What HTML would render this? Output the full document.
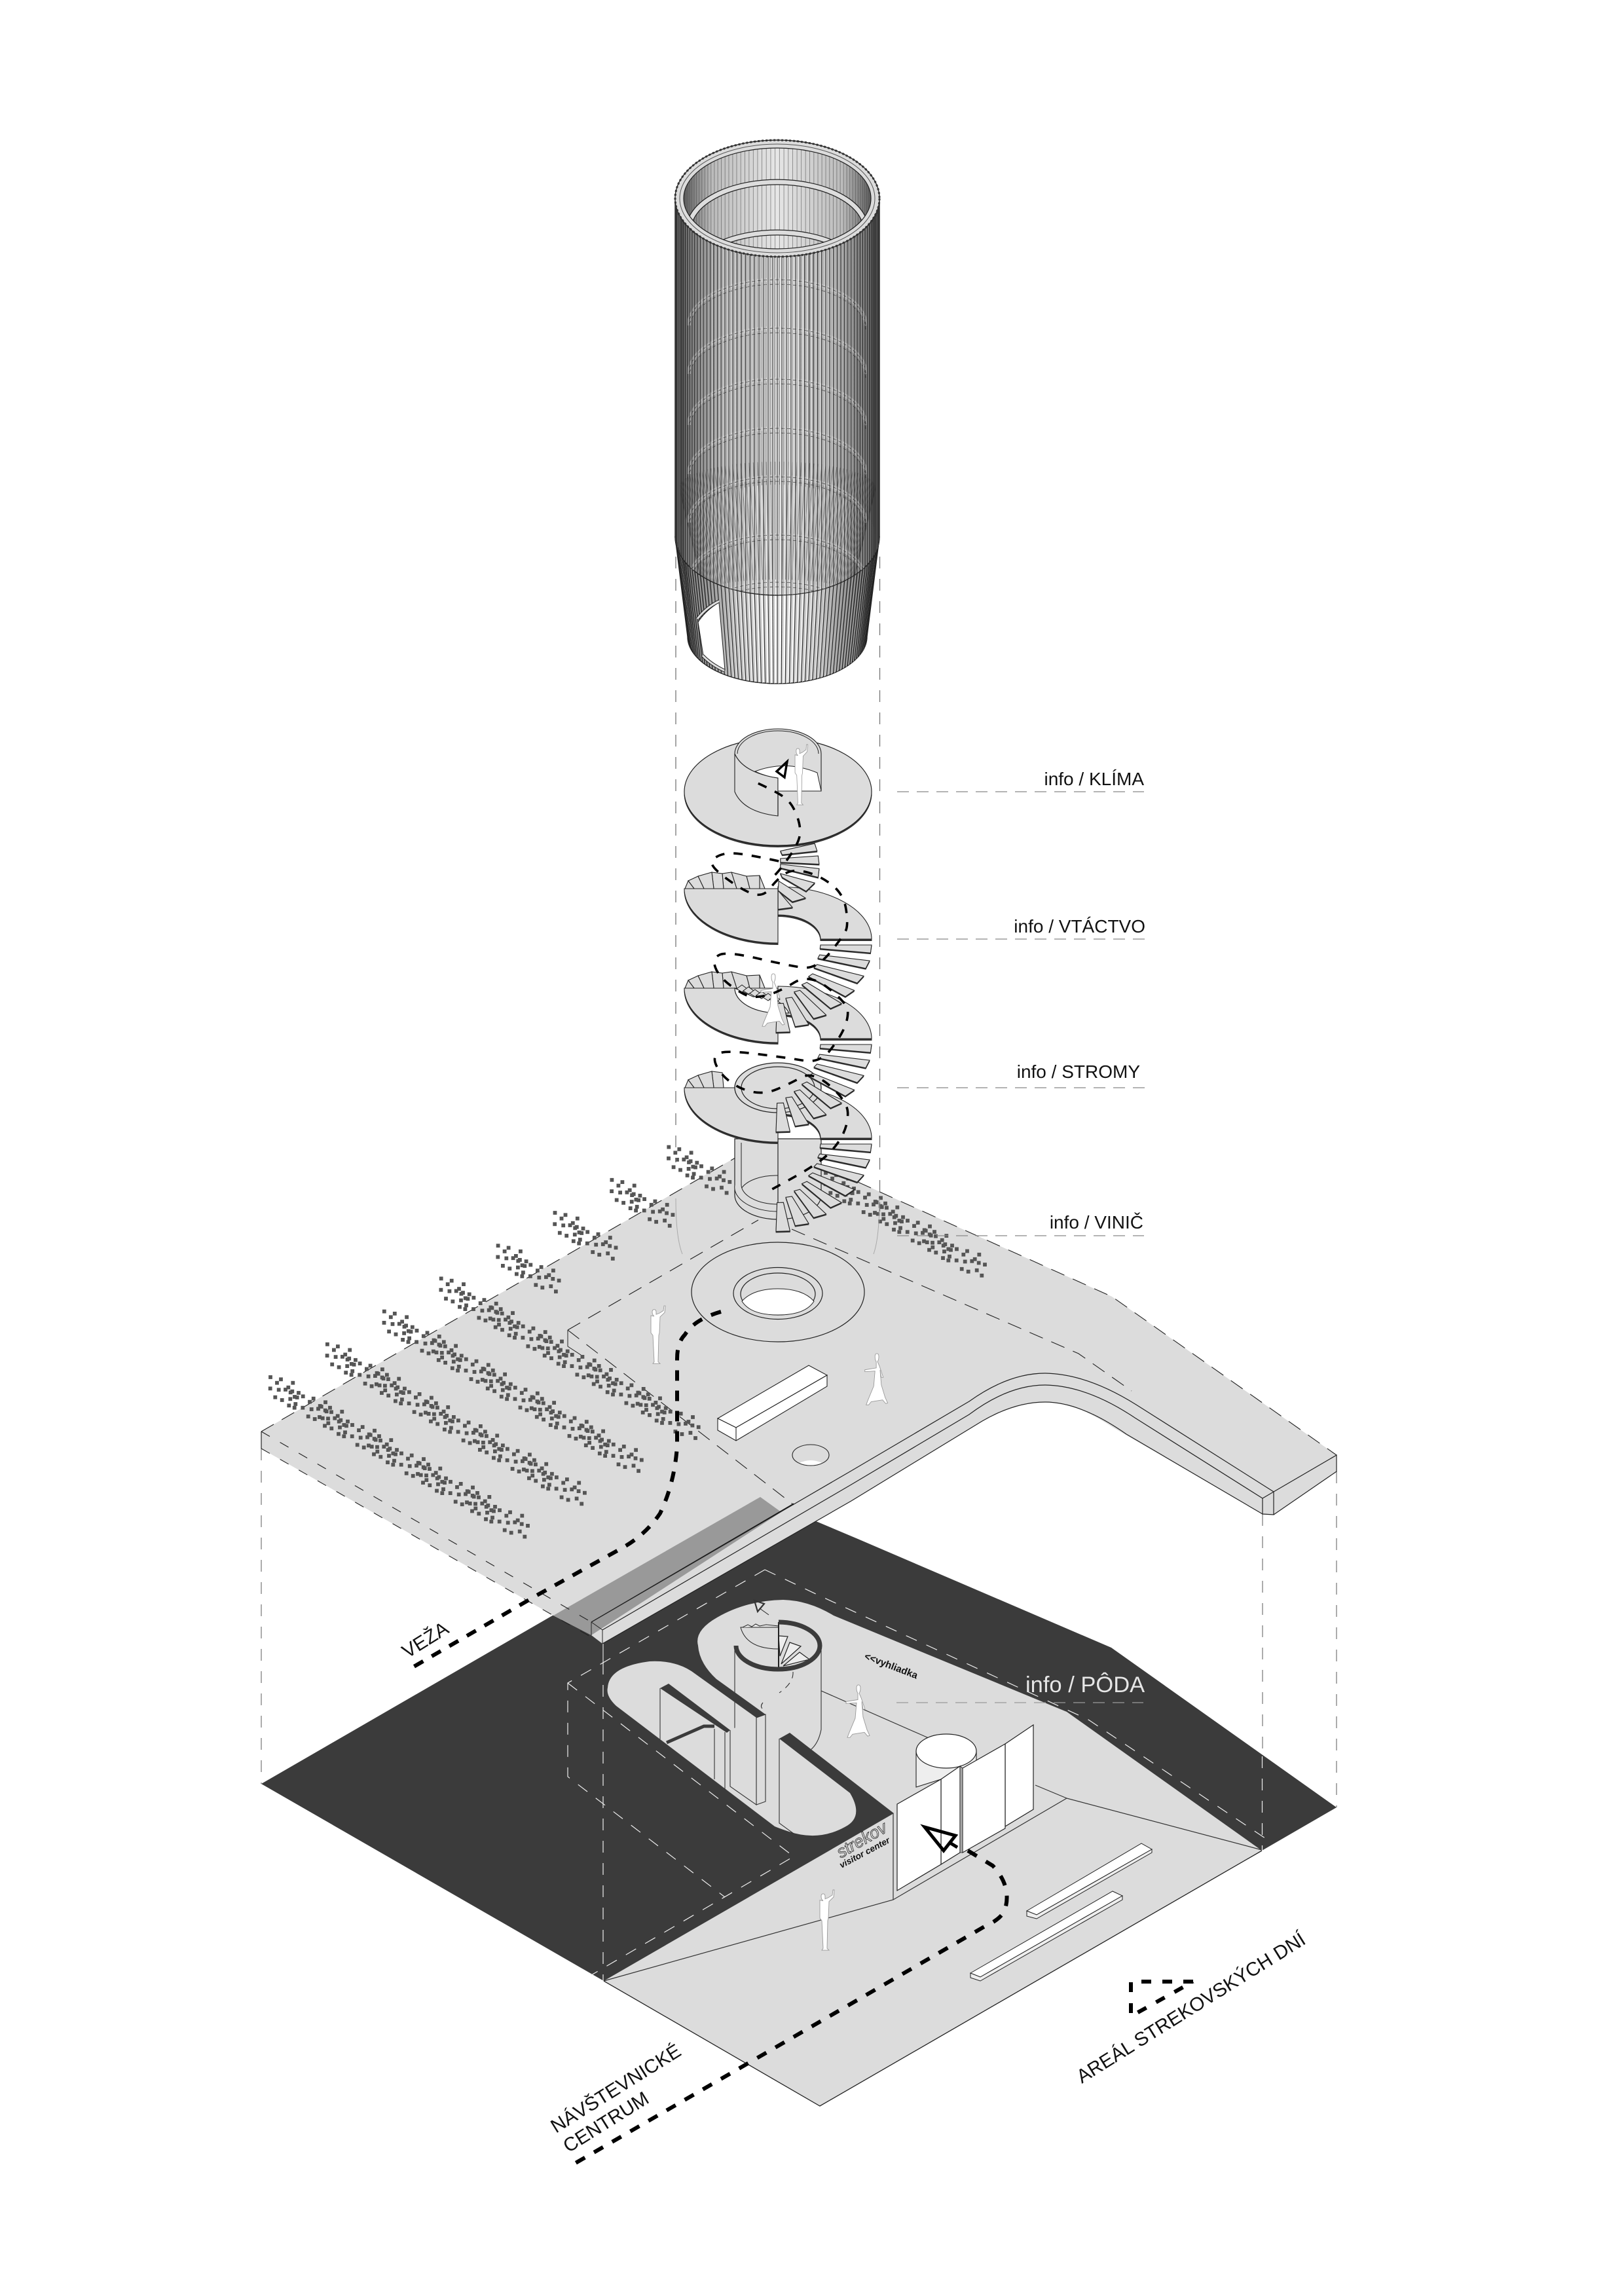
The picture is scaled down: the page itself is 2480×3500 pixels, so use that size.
<!DOCTYPE html>
<html><head><meta charset="utf-8"><title>Strekov</title>
<style>html,body{margin:0;padding:0;background:#fff}svg{display:block}text{font-family:"Liberation Sans",sans-serif}</style></head>
<body>
<svg id="root" xmlns="http://www.w3.org/2000/svg" width="2480" height="3500" viewBox="0 0 2480 3500">
<defs>
<linearGradient id="tg" x1="0" x2="1" y1="0" y2="0"><stop offset="0" stop-color="#333"/><stop offset=".05" stop-color="#666"/><stop offset=".18" stop-color="#bbb"/><stop offset=".5" stop-color="#e6e6e6"/><stop offset=".82" stop-color="#bbb"/><stop offset=".95" stop-color="#666"/><stop offset="1" stop-color="#333"/></linearGradient>
<linearGradient id="sg" x1="0" x2="1" y1="0" y2="0"><stop offset="0" stop-color="#222"/><stop offset=".12" stop-color="#777"/><stop offset=".3" stop-color="#ddd"/><stop offset=".5" stop-color="#fff"/><stop offset=".7" stop-color="#ddd"/><stop offset=".88" stop-color="#777"/><stop offset="1" stop-color="#222"/></linearGradient>
<clipPath id="bodyclip"><path d="M1031 303A156 89 0 0 1 1343 303L1343 820A156 89 0 0 1 1031 820Z"/></clipPath>
<clipPath id="innerclip"><ellipse cx="1187" cy="303" rx="143" ry="77"/></clipPath>
<clipPath id="skirtclip"><path d="M1031 820L1050 972A137 72 0 0 0 1324 972L1343 820Z"/></clipPath>
<symbol id="man" viewBox="0 0 34 100" preserveAspectRatio="none" overflow="visible"><path d="M13 17q-3-2-3-7q0-4 3-4q3 0 3 4l0 4l5-2l6-4l1-8l2 0l-1 11l-7 7l-1 26l-1 4l-1 43l3 3l-11 0l2-3l-2-43l-3-4l0-28z" fill="#fff" stroke="#999" stroke-width=".9"/></symbol>
<symbol id="woman" viewBox="0 0 60 90" preserveAspectRatio="none" overflow="visible"><path d="M26 14q-2-3-2-8q0-5 3-5q3 0 3 5q0 5-2 8l3 7l6 18l-3 0l-2-12l2 24l6 20l4 9l-3 1l-5-6l-18 3l-4 5l-4 0l3-8l9-22l2-24l-16 1l0-3l18-3z" fill="#fff" stroke="#999" stroke-width=".9"/></symbol>
</defs>
<rect width="2480" height="3500" fill="#fff"/>

<!-- LOWER PLAN -->
<path d="M922 3025L1252 3216L1927 2826L1629 2614L1250 2440L1100 2400L900 2560L930 2640Z" fill="#dcdcdc"/>
<path d="M922 3025L1252 3216L1927 2826" fill="none" stroke="#222" stroke-width="1.3"/>

<!-- lower tower cylinder body (behind dark wall tops) -->
<path d="M1122 2513L1122 2680L1160 2683Q1220 2690 1254 2641L1254 2513Z" fill="#dcdcdc"/>
<path d="M1122 2513L1122 2640M1254 2513L1254 2641Q1250 2662 1238 2672" fill="none" stroke="#333" stroke-width="1.1"/>

<path fill="#3b3b3b" d="M399 2724L1150 2290L1246 2323L1310 2350L1697 2516L2041 2760L1927 2826L1629 2614L1273 2467Q1235 2444 1196 2443Q1140 2444 1095 2470Q1060 2490 1066 2513Q1068 2540 1094 2564L1169 2618L1155 2623L1056 2552Q1030 2535 992 2537Q930 2545 928 2577Q925 2590 941 2605L1183 2789Q1190 2792 1205 2797Q1250 2812 1290 2790Q1320 2775 1298 2738L1190 2655L1206 2646L1365 2769L922 3025Z"/>

<!-- floor lines -->
<g fill="none" stroke="#333" stroke-width="1.2">
<path d="M922 3025L1364 2901L1629 2746L1927 2825"/>
<path d="M1364 2769L1364 2901"/>
<path d="M1581 2726L1629 2746"/>
<path d="M1254 2582L1418 2654"/>
</g>

<path d="M1131 2485L1189 2485L1189 2518Q1140 2518 1131 2485Z" fill="#dcdcdc" stroke="#222" stroke-width="1"/>
<path d="M1134 2485l8-4l6 3l6-4l6 3l10-2l19 2" fill="#eee" stroke="#222" stroke-width="1"/>
<g fill="#eee" stroke="#222" stroke-width="1.2">
<path d="M1189 2498L1203 2499L1191 2529Z"/>
<path d="M1206 2508L1223 2514L1193 2541Z"/>
<path d="M1221 2523L1236 2534L1196 2544Z"/>
</g>
<path d="M1189 2477L1189 2546" stroke="#222" stroke-width="2"/>
<path d="M1189 2477A64 36 0 1 1 1124 2513" fill="none" stroke="#3b3b3b" stroke-width="7"/>
<path d="M1211 2553Q1212 2570 1190 2585M1165 2600Q1160 2606 1165 2610" fill="none" stroke="#222" stroke-width="1" stroke-dasharray="10 8"/>
<path d="M1152 2444L1167 2449L1157 2461Z" fill="none" stroke="#333" stroke-width="2.2"/>
<path d="M1160 2456L1174 2466" stroke="#222" stroke-width="1"/>

<!-- walls in slot -->
<g fill="#dcdcdc" stroke="#333" stroke-width="1.1">
<path d="M1155 2623L1169 2618L1169 2751L1155 2756Z"/>
<path d="M1115 2642L1115 2728L1155 2756L1155 2623"/>
<path d="M1008 2578L1008 2656" fill="none"/>
<path d="M1091 2640L1091 2717M1107 2645L1107 2733" fill="none"/>
<path d="M1190 2655L1190 2784L1212 2800" fill="none"/>
</g>
<path d="M1008 2578L1021 2571L1115 2642L1110 2646Z" fill="#3b3b3b"/>
<path d="M1018 2661L1075 2636L1091 2636" fill="none" stroke="#3b3b3b" stroke-width="5"/>

<!-- pavilion -->
<path d="M1399 2674L1399 2729L1491 2700L1491 2674Z" fill="#eee" stroke="#222" stroke-width="1.1"/>
<ellipse cx="1445" cy="2674" rx="46" ry="26" fill="#fff" stroke="#222" stroke-width="1.2"/>
<g fill="#fff" stroke="#222" stroke-width="1.2">
<path d="M1535 2663L1578 2634L1578 2763L1535 2789Z"/>
<path d="M1437 2717L1466 2697L1466 2829L1437 2847Z"/>
<path d="M1370 2755L1437 2717L1437 2847L1370 2887Z"/>
<path d="M1470 2700L1535 2663L1535 2792L1470 2829Z"/>
</g>
<path d="M1466 2697L1466 2829L1470 2829L1470 2700Z" fill="#aaa" stroke="#222" stroke-width=".8"/>
<path d="M1412 2790L1459 2803L1441 2826Z" fill="none" stroke="#000" stroke-width="5"/>
<path d="M1449 2813L1462 2821" stroke="#000" stroke-width="5"/>

<!-- benches -->
<g fill="#fff" stroke="#222" stroke-width="1">
<path d="M1568 2918L1743 2815L1759 2824L1583 2924Z"/>
<path d="M1568 2918L1583 2924L1759 2824L1759 2829L1583 2930L1568 2926Z" fill="#eee"/>
<path d="M1482 3013L1699 2888L1714 2895L1497 3019Z"/>
<path d="M1482 3013L1497 3019L1714 2895L1714 2901L1497 3025L1482 3020Z" fill="#eee"/>
</g>

<!-- white dashed on dark -->
<g fill="none" stroke="#eee" stroke-width="1.2" stroke-dasharray="18 16">
<path d="M1168 2397L867 2570L867 2713L1107 2897"/>
<path d="M867 2570L1212 2835L903 3016"/>
<path d="M1168 2397L1250 2436L1662 2626L1944 2815"/>
<path d="M921 2539L921 3025"/>
<path d="M1927.5 2682L1927.5 2826"/>
</g>
<path d="M921 2510L921 2540" stroke="#fff" stroke-width="1"/>

<g fill="none" stroke="#888" stroke-width="1.4" stroke-dasharray="18 16">
<path d="M399 2212L399 2724"/>
<path d="M1928 2312L1928 2682"/>
<path d="M2041 2247L2041 2760"/>
</g>

<!-- lower persons -->
<use href="#woman" x="1284" y="2572" width="60" height="88"/>
<use href="#man" x="1244" y="2886" width="34" height="98"/>

<!-- lower texts -->
<text x="1319" y="2533" font-size="15" font-weight="bold" fill="#111" transform="rotate(21 1319 2533)">&lt;&lt;vyhliadka</text>
<text x="1284" y="2838" font-size="26" font-style="italic" fill="none" stroke="#111" stroke-width=".7" transform="rotate(-30 1284 2838)">strekov</text>
<text x="1285" y="2853" font-size="13.5" font-style="italic" font-weight="bold" fill="#111" transform="rotate(-28 1285 2853)">visitor center</text>
<path d="M1369 2600L1746 2600" stroke="#999" stroke-width="1.3" stroke-dasharray="18 12" fill="none"/>
<text x="1566" y="2584" font-size="34.5" fill="#e6e6e6">info / PÔDA</text>

<!-- UPPER SLAB -->
<path fill="#dcdcdc" d="M399 2186L1169 1741L1698 1980L2041 2222L2041 2247L1945 2313L1928 2312L1700 2180Q1640 2140 1596 2141Q1550 2141 1500 2170L1300 2292L920 2510L903 2497L845 2467L399 2212Z"/>
<path d="M845 2467L1161 2286L1193 2309L903 2497Z" fill="#999"/>
<path d="M903 2477L903 2497M903 2477L920 2489L920 2510" fill="none" stroke="#222" stroke-width="1"/>
<path d="M903 2477L1212 2296" stroke="#111" stroke-width="1.2"/>
<g fill="none" stroke="#222" stroke-width="1.2">
<path d="M903 2477L1300 2246L1480 2140Q1540 2097 1596 2097Q1660 2098 1735 2145L1945 2278"/>
<path d="M920 2489L1300 2267L1480 2160Q1540 2115 1596 2115Q1660 2116 1733 2165L1928 2288"/>
<path d="M920 2510L1300 2292L1500 2170Q1550 2141 1596 2141Q1650 2141 1720 2190L1928 2312"/>
<path d="M1945 2278L2041 2222L2041 2247L1945 2313"/>
<path d="M1945 2278L1945 2313L1928 2312L1928 2288Z"/>
<path d="M399 2186L399 2212"/>
</g>
<g fill="none" stroke="#222" stroke-width="1.1" stroke-dasharray="22 14">
<path d="M399 2186L1123 1768"/>
<path d="M1310 1805L1698 1980L2041 2222"/>
<path d="M867 2031L1158 1863"/>
<path d="M867 2031L1212 2298"/>
<path d="M1209 1877L1647 2067L1728 2124"/>
</g>
<g fill="none" stroke="#222" stroke-width="1.1" stroke-dasharray="15 18">
<path d="M399 2186L903 2477"/>
<path d="M399 2212L845 2467L903 2500"/>
</g>
<path d="M867 2031L867 2056L890 2071" fill="none" stroke="#222" stroke-width="1"/>

<!-- ring & hole -->
<ellipse cx="1188" cy="1973" rx="132" ry="76" fill="#dcdcdc" stroke="#222" stroke-width="1.2"/>
<ellipse cx="1188" cy="1975" rx="68" ry="39.5" fill="#dcdcdc" stroke="#222" stroke-width="1.2"/>
<ellipse cx="1188" cy="1976" rx="57" ry="32" fill="#dcdcdc" stroke="#222" stroke-width="1.2"/>
<path d="M1133 1987Q1150 1968 1188 1968Q1226 1968 1243 1987Q1230 2008 1188 2008Q1146 2008 1133 1987Z" fill="#fff" stroke="#222" stroke-width="1"/>
<ellipse cx="1238" cy="2222" rx="28" ry="16" fill="#dcdcdc" stroke="#222" stroke-width="1.1"/>
<path d="M1221 2234Q1238 2226 1255 2234Q1238 2241 1221 2234Z" fill="#fff"/>
<g stroke="#222" stroke-width="1.1" fill="#fff">
<path d="M1096 2166L1235 2085L1263 2100L1124 2180Z"/>
<path d="M1096 2166L1124 2180L1263 2100L1263 2117L1124 2200L1096 2184Z"/>
<path d="M1124 2180L1124 2200" fill="none"/>
</g>
<use href="#man" x="986" y="1994" width="34" height="94"/>
<use href="#woman" x="1313" y="2066" width="58" height="86"/>

<g id="dots" fill="#555"></g>

<!-- ground path -->
<g fill="none" stroke="#000" stroke-width="6">
<path d="M1101 2003Q1060 2015 1046 2038Q1034 2050 1034 2075L1034 2209Q1030 2265 1008 2311Q985 2345 948 2365L820 2436L632 2545" stroke-dasharray="16 15"/>
<path d="M1478 2826L1516 2849Q1545 2880 1535 2915Q1530 2930 1505 2941L879 3303" stroke-dasharray="16 16"/>
<path d="M1822 3026L1727 3026L1727 3079L1822 3026" stroke-dasharray="15 17"/>
</g>

<!-- faint lines on slab -->
<g fill="none" stroke="#aaa" stroke-width="1">
<path d="M1032 1830Q1032 1890 1042 1915M1343 1830Q1343 1890 1334 1915"/>
</g>

<!-- vertical connectors around spiral -->
<g fill="none" stroke="#777" stroke-width="1.3" stroke-dasharray="18 16">
<path d="M1032 850L1032 1775"/>
<path d="M1343.5 850L1343.5 1850"/>
</g>

<g id="spiral"></g>
<g id="spiralpath" fill="none" stroke="#000" stroke-width="3.6" stroke-dasharray="14 14"></g>

<!-- TOWER -->
<g id="tower"></g>

<!-- labels -->
<g fill="none" stroke="#888" stroke-width="1.3" stroke-dasharray="18 12">
<path d="M1370 1209L1747 1209"/>
<path d="M1370 1434L1749 1434"/>
<path d="M1370 1661L1749 1661"/>
<path d="M1370 1887L1747 1887"/>
</g>
<g font-size="28" fill="#111" text-anchor="end">
<text x="1747" y="1199">info / KLÍMA</text>
<text x="1749" y="1424">info / VTÁCTVO</text>
<text x="1741" y="1646">info / STROMY</text>
<text x="1746" y="1876">info / VINIČ</text>
</g>
<g font-size="29.5" fill="#111">
<text x="622" y="2533" transform="rotate(-32 622 2533)">VEŽA</text>
<text x="849" y="3258" transform="rotate(-32 849 3258)">NÁVŠTEVNICKÉ</text>
<text x="868" y="3288" transform="rotate(-32 868 3288)">CENTRUM</text>
<text x="1652" y="3182" transform="rotate(-32 1652 3182)">AREÁL STREKOVSKÝCH DNÍ</text>
</g>
</svg>
<script>
(function(){
var NS='http://www.w3.org/2000/svg';
function el(p,t,a){var e=document.createElementNS(NS,t);for(var k in a)e.setAttribute(k,a[k]);p.appendChild(e);return e;}
var g=document.getElementById('dots');
var OH=[[38,25],[86,35],[68,51],[141,51],[37,77],[76,83],[107,82],[120,72],[138,90],[130,95],[167,97],[187,113],[149,115],[160,118],[60,117],[91,130],[129,125],[153,148],[123,155],[148,165],[186,165]];
var TL=[[218,138],[235,123],[290,140],[265,157],[257,170],[271,160],[289,177],[295,182],[311,165],[317,185],[226,172],[366,183],[211,205],[241,217],[263,208],[277,213],[302,215],[333,213],[346,203],[360,222],[352,228],[303,236],[287,248],[318,260],[356,255],[375,244],[386,248],[392,228],[413,244],[350,285],[375,296],[380,278],[412,296]];
var TAIL=[[219,139],[236,123],[291,139],[226,171],[258,169],[271,160],[289,177],[317,185],[211,205],[241,217],[280,211],[303,235]];
function dot(ox,oy,p,sx,sy){var x=ox+(p[0]-38)/3+sx,y=oy+(p[1]-25)/3+sy;el(g,'rect',{x:(x-2.9).toFixed(1),y:(y-2.9).toFixed(1),width:5.8,height:5.8});}
function row(ox,oy,k){
 OH.forEach(function(p){dot(ox,oy,p,0,0);});
 for(var j=0;j<k;j++)TL.forEach(function(p){dot(ox,oy,p,75*j,43.4*j);});
 TAIL.forEach(function(p){dot(ox,oy,p,75*k,43.4*k);});
}
for(var q=0;q<8;q++)row(413+86.9*q,2103-50.2*q,q<4?4:0);
row(1261,1791,2);

var S=document.getElementById('spiral');
var cx=1188;
function poly(d,fill,stroke,w){return el(S,'path',{d:d,fill:fill||'#dcdcdc',stroke:stroke||'#222','stroke-width':w||1.1});}
function Z(p){var X=980+p[0]/1.912,Y=1090+p[1]/1.742;return [X,Y];}
function flight(cy){
 for(var i=0;i<8;i++){
  var a0=(i*11.8)*Math.PI/180,a1=(i*11.8+8.6)*Math.PI/180,dz=i*7.5;
  var o0=[cx+143*Math.cos(a0),cy+81*Math.sin(a0)+dz],o1=[cx+143*Math.cos(a1),cy+81*Math.sin(a1)+dz],
      n1=[cx+65*Math.cos(a1),cy+37*Math.sin(a1)+dz],n0=[cx+65*Math.cos(a0),cy+37*Math.sin(a0)+dz];
  var d='M'+o0+'L'+o1+'L'+n1+'L'+n0+'Z';
  el(S,'path',{d:d,fill:'#333',stroke:'#333','stroke-width':.8,transform:'translate(0,1.6)'});
  poly(d);
 }
}
function sector(cy){var d='M1188 '+cy+'L1045 '+cy+'A143 83 0 0 0 1188 '+(cy+83)+'Z';
 poly(d,'#333','#333',1).setAttribute('transform','translate(0,2.5)');
 poly(d);}
function annulus(c){var d='M1188 '+(c-80)+'A143 80 0 0 1 1331 '+c+'L1253 '+c+'A65 37 0 0 0 1188 '+(c-37)+'Z';
 poly(d,'#333','#333',1).setAttribute('transform','translate(0,2.5)');poly(d);}
function backfan(dy,stop){
 var P=[[1046,1357],[1051,1345],[1066,1338],[1087,1332],[1103,1334],[1117,1332],[1140,1338],[1160,1337],[1168,1357]];
 var B=[1046,1060,1075,1090,1105,1125,1145,1160,1168];
 for(var i=stop;i>=0;i--){
  poly('M'+B[i]+' '+(1357+dy)+'L'+P[i][0]+' '+(P[i][1]+dy)+'L'+P[i+1][0]+' '+(P[i+1][1]+dy)+'L'+B[i+1]+' '+(1357+dy)+'Z');
 }
}
poly('M1122 1739L1122 1825A66 37 0 0 0 1254 1825L1254 1739Z','#dcdcdc','#222',1.2);
poly('M1132 1745L1132 1815','none','#222',1);
poly('M1132 1815A56 30 0 0 1 1188 1795','none','#222',1);
poly('M1122 1810A66 37 0 0 0 1188 1850L1188 1839A56 30 0 0 1 1132 1808','#dcdcdc','#222',1);
poly('M1188 1739L1188 1840','none','#222',1.2);
flight(1443+304);
annulus(1434+304);
backfan(304,3);
sector(1357+304);
el(S,'ellipse',{cx:1188,cy:1661,rx:66,ry:38,fill:'#dcdcdc',stroke:'#222','stroke-width':1.3});
el(S,'ellipse',{cx:1188,cy:1661,rx:56,ry:32,fill:'#dcdcdc',stroke:'#222','stroke-width':1.2});
flight(1443+152);
annulus(1434+152);
backfan(152,7);
sector(1357+152);
el(S,'path',{d:'M1122 1509A66 38 0 0 0 1188 1547L1205 1547Q1190 1520 1150 1522L1122 1509Z',fill:'#fff',stroke:'#222','stroke-width':1.2});
[[1125,1510],[1135,1513],[1145,1517],[1155,1520],[1165,1523],[1175,1526]].forEach(function(p){
 el(S,'path',{d:'M'+p[0]+' '+p[1]+'l8 -6l8 6l-8 5z',fill:'#dcdcdc',stroke:'#222','stroke-width':1});
});
flight(1443);
annulus(1434);
backfan(0,7);
sector(1357);
[[[405,365],[505,345],[512,365],[410,375]],[[405,385],[515,378],[518,400],[405,395]],[[405,400],[518,412],[515,435],[405,410]],[[405,425],[505,450],[480,472],[410,435]],[[400,445],[478,490],[440,500],[398,470]],[[398,470],[440,515],[398,520]]].forEach(function(q){
 var d='M'+q.map(function(p){return Z(p).join(' ');}).join('L')+'Z';
 el(S,'path',{d:d,fill:'#333',stroke:'#333','stroke-width':.8,transform:'translate(0,1.6)'});poly(d);
});
el(S,'ellipse',{cx:1188,cy:1211.5,rx:143,ry:82,fill:'#333',stroke:'#333'});
el(S,'ellipse',{cx:1188,cy:1209,rx:143,ry:82,fill:'#dcdcdc',stroke:'#222','stroke-width':1.2});
poly('M1122 1151A66 38 0 0 1 1254 1151L1254 1208L1188 1208L1188 1246Q1135 1240 1122 1209Z','#dcdcdc');
poly('M1126 1151A62 35 0 0 1 1250 1151','none','#222',1);
poly('M1122 1151Q1135 1180 1188 1188L1188 1246','none','#222',1.2);
poly('M1153 1178Q1200 1160 1248 1180L1254 1208L1188 1208L1188 1188Q1170 1186 1153 1178Z','#fff','#222',1);
el(S,'use',{href:'#man',x:1207,y:1137,width:30,height:98});
poly('M1202 1163L1186 1178L1198 1187Z','none','#000',3.4);
el(S,'use',{href:'#woman',x:1154,y:1486,width:60,height:88});

var SP=document.getElementById('spiralpath');
function smooth(p){p=p.map(Z);var d='M'+p[0][0]+' '+p[0][1];for(var i=1;i<p.length-1;i++){var mx=(p[i][0]+p[i+1][0])/2,my=(p[i][1]+p[i+1][1])/2;d+='Q'+p[i][0]+' '+p[i][1]+' '+mx+' '+my;}var l=p[p.length-1];d+='L'+l[0]+' '+l[1];return d;}
el(SP,'path',{d:smooth([[340,185],[400,210],[440,240],[465,300],[458,345],[400,420],[375,440]])});
el(SP,'path',{d:smooth([[400,392],[330,378],[250,368],[205,385],[205,410],[295,470],[355,488],[395,440],[440,412],[520,430],[590,480],[603,560],[590,590],[510,680],[430,670],[250,632],[205,650],[225,700],[300,750],[340,755],[400,740],[490,690],[600,770],[603,810],[580,860],[520,930],[425,915],[250,895],[205,910],[230,960],[290,1000],[360,1012],[430,985],[500,950],[600,1030],[603,1090],[570,1150],[510,1200],[360,1275]])});

var T=document.getElementById('tower');
var tx=1187;
el(T,'path',{d:'M1031 820L1050 972A137 72 0 0 0 1324 972L1343 820Z',fill:'url(#sg)',stroke:'#222','stroke-width':1.4});
var sk=el(T,'g',{'clip-path':'url(#skirtclip)'});
var N=140,i,th;
for(i=0;i<=N/2;i++){th=-Math.PI/2+i*2*Math.PI/N;
 var sn=Math.sin(th),cs=Math.cos(th);
 el(sk,'line',{x1:tx+156*sn,y1:820+89*cs,x2:tx+137*sn,y2:972+72*cs,stroke:'#222','stroke-width':1.2});
 el(sk,'line',{x1:tx+156*sn+2.2,y1:820+89*cs,x2:tx+137*sn+2,y2:972+72*cs,stroke:'#aaa','stroke-width':1});
}
el(T,'path',{d:'M1066 950Q1078 932 1098 920L1107 1023Q1085 1014 1074 1001Z',fill:'#fff',stroke:'#222','stroke-width':1});
el(T,'path',{d:'M1065 945Q1078 928 1098 918',fill:'none',stroke:'#222','stroke-width':5});
el(T,'path',{d:'M1065 945Q1078 928 1098 918',fill:'none',stroke:'#ddd','stroke-width':3});
el(T,'path',{d:'M1073 1001Q1085 1014 1106 1024',fill:'none',stroke:'#222','stroke-width':5});
el(T,'path',{d:'M1073 1001Q1085 1014 1106 1024',fill:'none',stroke:'#ddd','stroke-width':3});
el(T,'path',{d:'M1031 303A156 89 0 0 1 1343 303L1343 820A156 89 0 0 1 1031 820Z',fill:'url(#tg)',stroke:'#222','stroke-width':1.4});
var b=el(T,'g',{'clip-path':'url(#bodyclip)'});
for(i=0;i<=N/2;i++){th=-Math.PI/2+(i+.5)*2*Math.PI/N;
 var sb=Math.sin(th),cb=Math.cos(th);
 el(b,'line',{x1:tx+150*sb,y1:303-80*cb,x2:tx+150*sb,y2:820-80*cb,stroke:'#444','stroke-width':.9,opacity:.55});
 /* back skirt fins seen through the lower part */
 el(b,'line',{x1:tx+150*sb,y1:745-40*cb,x2:tx+112*sb,y2:905-20*cb,stroke:'#222','stroke-width':1,opacity:.45});
}
[427,501,579,654,728,817,889].forEach(function(y){
 var d='M'+(tx-135)+' '+(y+70)+'A135 70 0 0 1 '+(tx+135)+' '+(y+70);
 el(b,'path',{d:d,fill:'none',stroke:'#ddd','stroke-width':6,opacity:.5});
 el(b,'path',{d:d,fill:'none',stroke:'#333','stroke-width':.7,'stroke-dasharray':'5 4'});
 el(b,'path',{d:d,fill:'none',stroke:'#333','stroke-width':.7,'stroke-dasharray':'5 4',transform:'translate(0,7)'});
});
for(i=0;i<=N/2;i++){th=-Math.PI/2+i*2*Math.PI/N;
 var sf=Math.sin(th),cf=Math.cos(th);
 el(b,'line',{x1:tx+156*sf,y1:303+89*cf,x2:tx+156*sf,y2:820+89*cf,stroke:'#333','stroke-width':1.1});
 el(b,'line',{x1:tx+156*sf+2.4,y1:303+89*cf,x2:tx+156*sf+2.4,y2:820+89*cf,stroke:'#999','stroke-width':.8});
}
var inn=el(T,'g',{'clip-path':'url(#innerclip)'});
[278,355].forEach(function(y){
 var d='M'+(tx-135)+' '+(y+72)+'A135 72 0 0 1 '+(tx+135)+' '+(y+72);
 el(inn,'path',{d:d,fill:'none',stroke:'#222','stroke-width':9});
 el(inn,'path',{d:d,fill:'none',stroke:'#ddd','stroke-width':6.5});
});
el(T,'path',{d:'M1031 303A156 89 0 1 1 1343 303A156 89 0 1 1 1031 303ZM1044 303A143 77 0 1 0 1330 303A143 77 0 1 0 1044 303Z','fill-rule':'evenodd',fill:'#dcdcdc',stroke:'#222','stroke-width':1.2});
el(T,'ellipse',{cx:tx,cy:303,rx:156,ry:89,fill:'none',stroke:'#333','stroke-width':3,'stroke-dasharray':'3 3'});
el(T,'ellipse',{cx:tx,cy:303,rx:149,ry:83,fill:'none',stroke:'#555','stroke-width':1});
})();
</script>
</body></html>
